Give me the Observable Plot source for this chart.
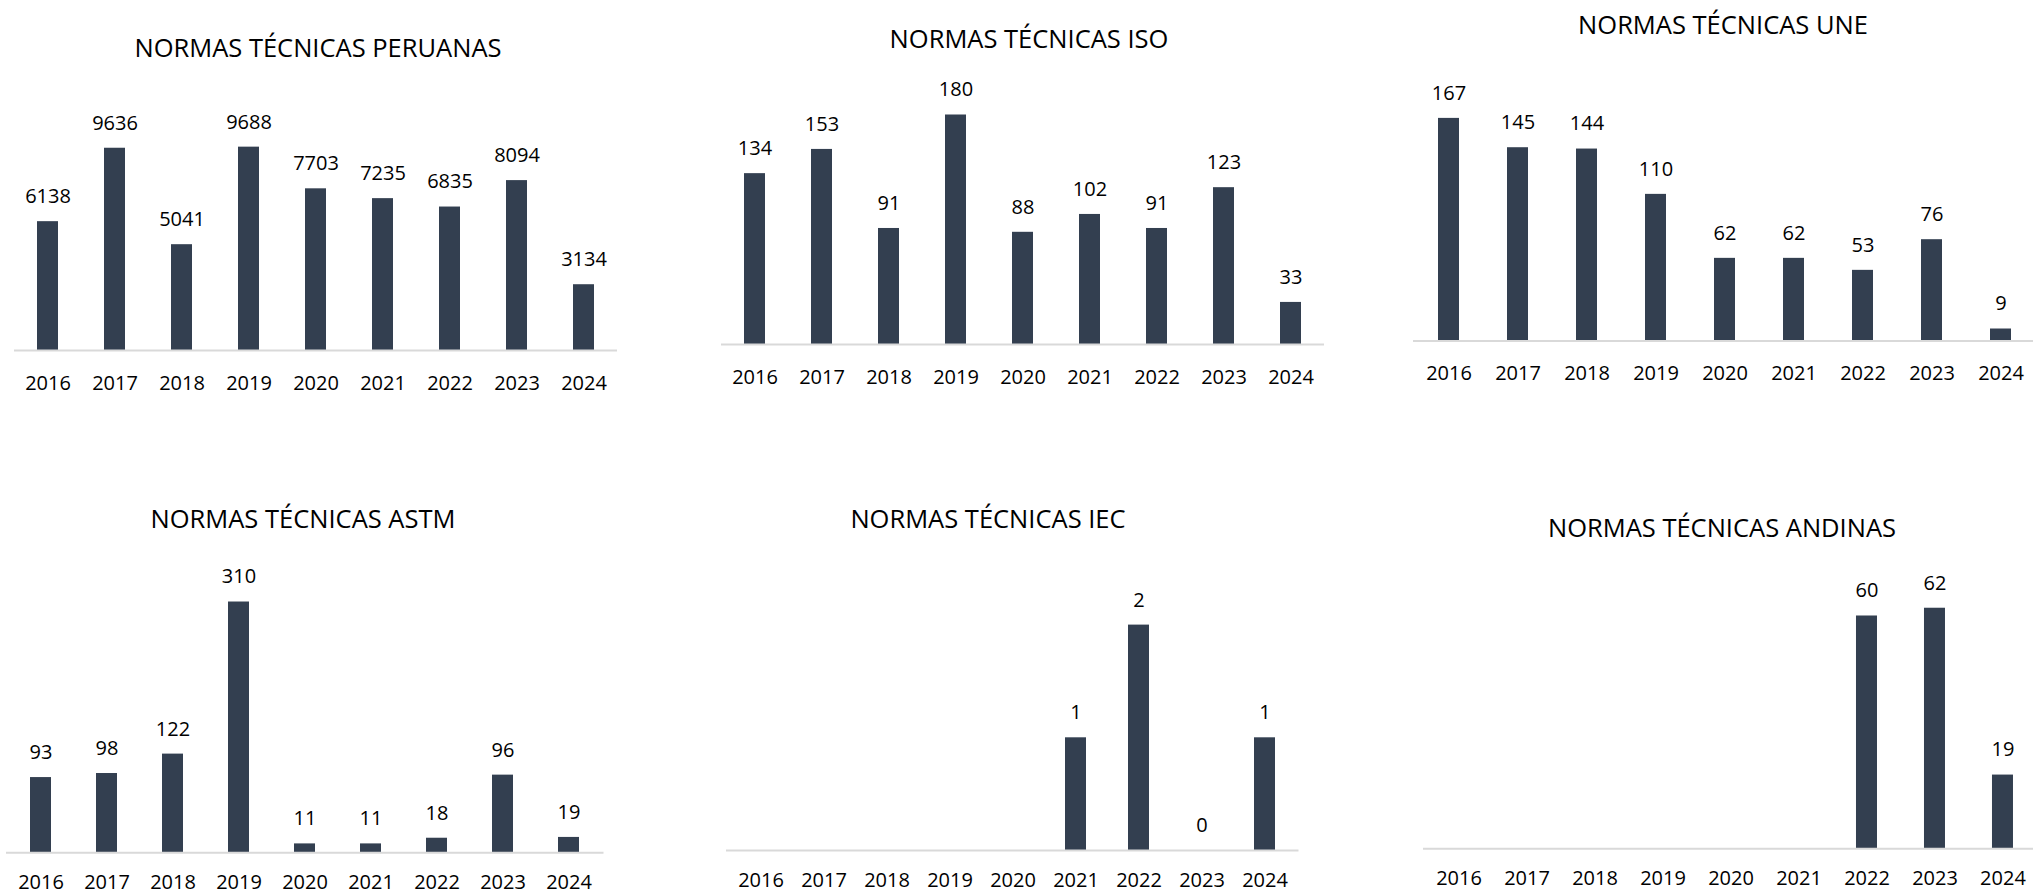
<!DOCTYPE html>
<html>
<head>
<meta charset="utf-8">
<script src="https://cdn.jsdelivr.net/npm/d3@7"></script>
<script src="https://cdn.jsdelivr.net/npm/@observablehq/plot@0.6"></script>
<style>
  html, body { margin: 0; padding: 0; background: #fff; overflow: hidden; }
  #root { position: relative; width: 2033px; height: 894px; overflow: hidden; font-family: "Open Sans", sans-serif; }
  .title { position: absolute; transform: translate(-50%, -50%); white-space: nowrap; font-size: 25.5px; line-height: 1; color: #000; }
  .panel { position: absolute; }
  .panel svg { overflow: visible; max-width: none !important; }
</style>
</head>
<body>
<div id="root"></div>
<script>
// ---- data ----
const years = [2016, 2017, 2018, 2019, 2020, 2021, 2022, 2023, 2024];
const titles = [
  "NORMAS TÉCNICAS PERUANAS",
  "NORMAS TÉCNICAS ISO",
  "NORMAS TÉCNICAS UNE",
  "NORMAS TÉCNICAS ASTM",
  "NORMAS TÉCNICAS IEC",
  "NORMAS TÉCNICAS ANDINAS"
];
const peruanas = [6138, 9636, 5041, 9688, 7703, 7235, 6835, 8094, 3134];
const iso      = [134, 153, 91, 180, 88, 102, 91, 123, 33];
const une      = [167, 145, 144, 110, 62, 62, 53, 76, 9];
const astm     = [93, 98, 122, 310, 11, 11, 18, 96, 19];
const iec      = [null, null, null, null, null, 1, 2, 0, 1];
const andinas  = [null, null, null, null, null, null, 60, 62, 19];
const series = [peruanas, iso, une, astm, iec, andinas];

// ---- layout (page pixels) ----
// r0/r1: horizontal extent of the category band; axisY: baseline; k: px per unit; tx/ty: title centre
const layout = [
  { r0: 14.3,   r1: 617.3,  top: 60,  axisY: 350,   k: 0.02099, tx: 318,  ty: 48,  pad: 25 },
  { r0: 720.5,  r1: 1323.5, top: 60,  axisY: 344,   k: 1.275,   tx: 1029, ty: 39,  pad: 25 },
  { r0: 1412.5, r1: 2036,   top: 60,  axisY: 340.5, k: 1.333,   tx: 1723, ty: 25,  pad: 25 },
  { r0: 5.5,    r1: 603,    top: 470, axisY: 852.3, k: 0.809,   tx: 303,  ty: 519, pad: 22 },
  { r0: 725.5,  r1: 1298,   top: 470, axisY: 850,   k: 112.7,   tx: 988,  ty: 519, pad: 22 },
  { r0: 1423,   r1: 2037.7, top: 470, axisY: 848.3, k: 3.88,    tx: 1722, ty: 528, pad: 22 }
];
const barColor = "#333f50";
const axisColor = "#d9d9d9";
const barPx = 21;      // bar width in px
const sideM = 30;      // side margin of each svg
const bottomM = 50;    // bottom margin (year labels)

const root = document.getElementById("root");

series.forEach((values, i) => {
  const L = layout[i];
  const data = years.map((y, j) => ({ year: y, value: values[j] }));
  const shown = data.filter(d => d.value != null);
  const bandW = L.r1 - L.r0;
  const step = bandW / years.length;
  const pad = 1 - barPx / step;
  const plotH = L.axisY - L.top;
  const yMax = plotH / L.k;
  const W = bandW + 2 * sideM;

  const chart = Plot.plot({
    width: W,
    height: plotH + bottomM,
    marginLeft: sideM,
    marginRight: sideM,
    marginTop: 0,
    marginBottom: bottomM,
    style: { background: "transparent", fontFamily: "'Open Sans', sans-serif", color: "#000", overflow: "visible", maxWidth: "none" },
    x: { type: "band", domain: years, paddingInner: pad, paddingOuter: pad / 2, align: 0.5 },
    y: { domain: [0, yMax], axis: null },
    marks: [
      Plot.barY(shown, { x: "year", y: "value", fill: barColor }),
      Plot.ruleY([0], { stroke: axisColor, strokeWidth: 2 }),
      Plot.text(shown, { x: "year", y: "value", text: d => String(d.value), dy: -25, fontSize: 20, fill: "#000" }),
      Plot.axisX({ tickSize: 0, tickPadding: L.pad, fontSize: 20, label: null, tickFormat: d => String(d), fill: "#000" })
    ]
  });

  const div = document.createElement("div");
  div.className = "panel";
  div.style.left = (L.r0 - sideM) + "px";
  div.style.top = L.top + "px";
  div.style.width = W + "px";
  div.appendChild(chart);
  root.appendChild(div);

  const t = document.createElement("div");
  t.className = "title";
  t.style.left = L.tx + "px";
  t.style.top = L.ty + "px";
  t.textContent = titles[i];
  root.appendChild(t);
});
</script>
</body>
</html>
